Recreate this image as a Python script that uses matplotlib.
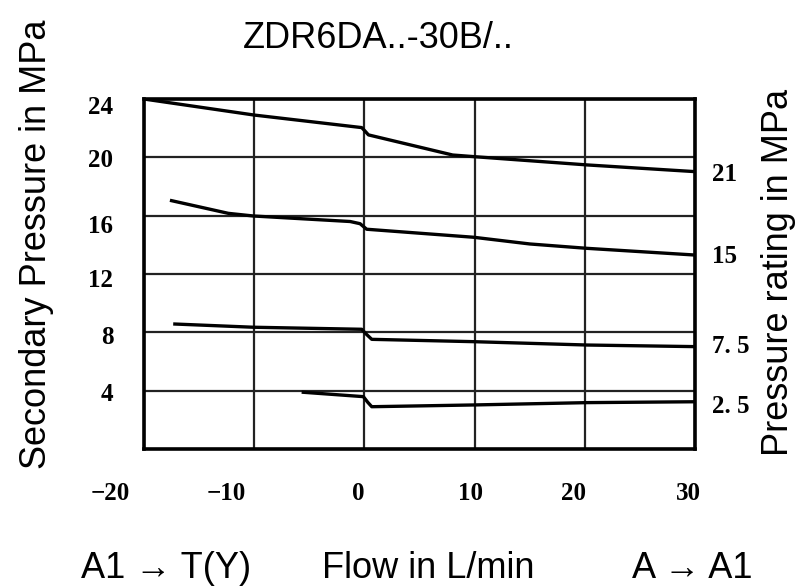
import matplotlib.pyplot as plt
from matplotlib.transforms import ScaledTranslation

# Kurven: Durchfluss (L/min) -> Sekundaerdruck (MPa), je Druckstufe
flow_21 = [-20, -10, -0.25, 0.05, 0.36, 8.0, 9.9, 20.2, 30]
pres_21 = [24.0, 22.9, 22.04, 21.8, 21.54, 20.16, 20.05, 19.48, 19.02]

flow_15 = [-17.5, -12.35, -10.1, -1.3, -0.4, 0.2, 9.9, 15.0, 20.2, 30]
pres_15 = [17.03, 16.16, 15.98, 15.6, 15.45, 15.07, 14.52, 14.06, 13.76, 13.3]

flow_75 = [-17.2, -10.1, -0.25, 0.2, 0.66, 9.9, 20.2, 30]
pres_75 = [8.57, 8.35, 8.21, 7.85, 7.52, 7.36, 7.13, 7.02]

flow_25 = [-5.55, -0.1, 0.3, 0.66, 9.9, 20.2, 30]
pres_25 = [3.89, 3.59, 3.2, 2.9, 3.02, 3.18, 3.24]

ratings = ["21", "15", "7. 5", "2. 5"]
rating_y = [18.8, 13.2, 7.0, 2.9]

x_ticks = [-20, -10, 0, 10, 20, 30]
x_labels = ["\u221220", "\u221210", "0", "10", "20", "30"]
y_ticks = [4, 8, 12, 16, 20, 24]

# Versatz der Beschriftungen wie im Scan (Pixel)
x_shift = [-34, -28, -6, -4, -11, -7]
y_shift = [-1, -3, -4, -8, -1, -6]

sans = ["Liberation Sans", "DejaVu Sans"]
serif = ["Liberation Serif", "DejaVu Serif"]

fig = plt.figure(figsize=(8, 5.88), dpi=100)
ax = fig.add_axes([0.18, 0.2364, 0.689, 0.5952])

for fx, py in [(flow_21, pres_21), (flow_15, pres_15),
               (flow_75, pres_75), (flow_25, pres_25)]:
    ax.plot(fx, py, color="black", lw=2.4, solid_joinstyle="round", zorder=3)

ax.set_xlim(-20, 30)
ax.set_ylim(0, 24)
ax.set_xticks(x_ticks)
ax.set_xticklabels(x_labels)
ax.set_yticks(y_ticks)
ax.set_yticklabels([str(v) for v in y_ticks])
ax.grid(True, color="#222222", lw=1.6, zorder=1)
for sp in ax.spines.values():
    sp.set_linewidth(2.6)
    sp.set_color("black")

ax.tick_params(axis="x", length=0, pad=24)
ax.tick_params(axis="y", length=0, pad=22)
for lbl in ax.get_xticklabels() + ax.get_yticklabels():
    lbl.set_fontfamily(serif)
    lbl.set_fontweight("bold")
    lbl.set_fontsize(18)

for lbl, dx in zip(ax.get_xticklabels(), x_shift):
    lbl.set_transform(lbl.get_transform()
                      + ScaledTranslation(dx / 100, 0, fig.dpi_scale_trans))
for lbl, dy in zip(ax.get_yticklabels(), y_shift):
    lbl.set_transform(lbl.get_transform()
                      + ScaledTranslation(0, dy / 100, fig.dpi_scale_trans))

for txt, yv in zip(ratings, rating_y):
    ax.text(31.5, yv, txt, ha="left", va="center", fontsize=18,
            fontweight="bold", family=serif, clip_on=False)

fig.text(0.4725, 0.918, "ZDR6DA..-30B/..", ha="center", va="baseline",
         fontsize=26, family=sans)
fig.text(0.046, 0.585, "Secondary Pressure in MPa", rotation=90,
         ha="center", va="center", fontsize=26, family=sans)
fig.text(0.9725, 0.537, "Pressure rating in MPa", rotation=90,
         ha="center", va="center", fontsize=26, family=sans)

fig.text(0.2075, 0.017, "A1 \u2192 T(Y)", ha="center", va="baseline",
         fontsize=26, family=sans)
fig.text(0.535, 0.017, "Flow in L/min", ha="center", va="baseline",
         fontsize=26, family=sans)
fig.text(0.865, 0.017, "A \u2192 A1", ha="center", va="baseline",
         fontsize=26, family=sans)

fig.savefig("out.png", dpi=100)
